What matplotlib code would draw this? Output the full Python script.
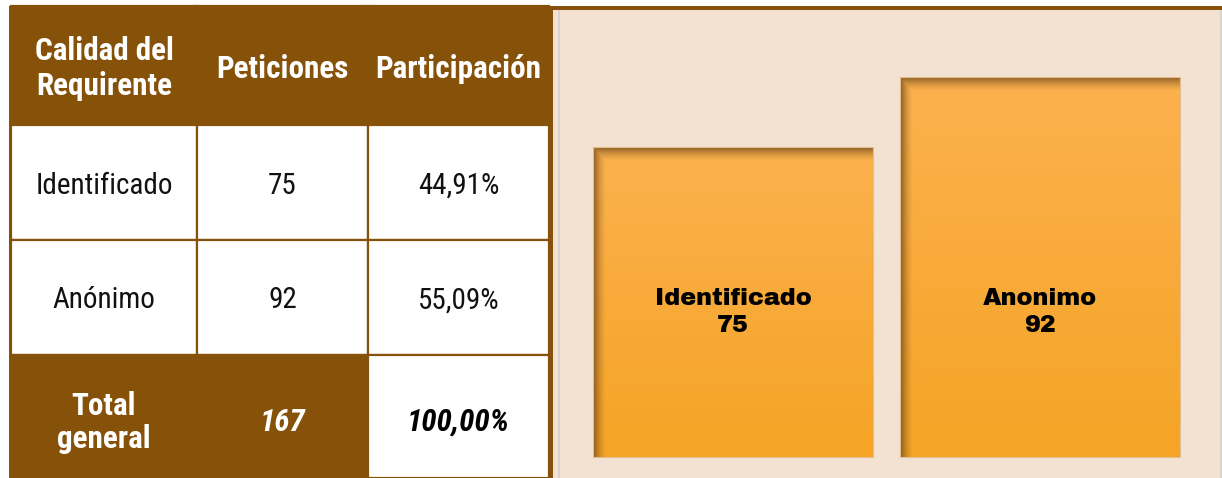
import numpy as np
import matplotlib
matplotlib.use("Agg")
import matplotlib.pyplot as plt
from matplotlib.lines import Line2D
from matplotlib.transforms import Affine2D

# ---------------- data ----------------
header = ["Calidad del\nRequirente", "Peticiones", "Participación"]
categories = ["Identificado", "Anónimo"]
peticiones = [75, 92]
participacion = ["44,91%", "55,09%"]
total_label = "Total\ngeneral"
total_peticiones = 167
total_participacion = "100,00%"
bar_labels = ["Identificado", "Anonimo"]

# ---------------- style ----------------
W, H = 1222, 478
BROWN = "#86520A"
BEIGE = "#F3E2D1"
TOP_OR = np.array([252, 177, 78]) / 255
BOT_OR = np.array([245, 164, 37]) / 255
SHADOW = np.array([120, 78, 28]) / 255
TFONT = ["Roboto Condensed", "DejaVu Sans"]
LFONT = ["Archivo Black", "DejaVu Sans"]

fig = plt.figure(figsize=(W / 100, H / 100), dpi=100)
fig.patch.set_facecolor("white")
ax_bg = fig.add_axes([9 / W, 0, (W - 9) / W, (H - 6) / H], zorder=-10)
ax_bg.set_facecolor(BROWN)
ax_bg.set_xticks([])
ax_bg.set_yticks([])
for sp in ax_bg.spines.values():
    sp.set_visible(False)

# ---------------- table ----------------
ax_t = fig.add_axes([11 / W, 0, 538 / W, (H - 6) / H])
ax_t.set_axis_off()
rows = [header]
for c, p, s in zip(categories, peticiones, participacion):
    rows.append([c, str(p), s])
rows.append([total_label, str(total_peticiones), total_participacion])
colours = [[BROWN] * 3] + [["white"] * 3 for _ in categories] + [[BROWN, BROWN, "white"]]
tbl = ax_t.table(cellText=rows, cellColours=colours, colWidths=[186, 171, 181],
                 cellLoc="center", bbox=[0, 0, 1, 1])
tbl.auto_set_font_size(False)
heights = [119, 115, 115, 123]
nrows = len(rows)
for (r, c), cell in tbl.get_celld().items():
    cell.set_height(heights[r])
    cell.set_edgecolor(BROWN)
    cell.set_linewidth(1.6)
    t = cell.get_text()
    t.set_fontfamily(TFONT)
    if r == 0:
        t.set_color("white")
        t.set_fontweight("bold")
        t.set_fontsize(22.4)
        t.set_linespacing(1.22)
        t.set_transform(Affine2D().translate(0, -3))
    elif r == nrows - 1:
        t.set_fontweight("bold")
        t.set_fontsize(22.4)
        t.set_linespacing(1.12)
        t.set_transform(Affine2D().translate(0, -6))
        if c == 0:
            t.set_color("white")
        elif c == 1:
            t.set_color("white")
            t.set_fontstyle("italic")
        else:
            t.set_color("black")
            t.set_fontstyle("italic")
    else:
        t.set_color("#111111")
        t.set_fontsize(21)
        t.set_transform(Affine2D().translate(0, -3))

# ---------------- bar chart ----------------
ax = fig.add_axes([553 / W, 0, (W - 553) / W, (H - 10) / H])
ax.set_facecolor(BEIGE)
xpos = np.arange(len(peticiones))
px_x = 307.0
px_y = 380.0 / 92.0
bars = ax.bar(xpos, peticiones, width=280 / px_x, color=BOT_OR, zorder=1)
for p in bars.patches:
    x0, y0 = p.get_x(), p.get_y()
    w, h = p.get_width(), p.get_height()
    wp, hp = int(round(w * px_x)), int(round(h * px_y))
    yy = np.linspace(0, 1, hp)[:, None, None]
    base = TOP_OR * (1 - yy) + BOT_OR * yy
    base = np.broadcast_to(base, (hp, wp, 3)).copy()
    dl = np.arange(wp)[None, :]
    dt = np.arange(hp)[:, None]
    sl = np.clip(1 - dl / 13.0, 0, 1) ** 1.6
    st = np.clip(1 - dt / 14.0, 0, 1) ** 1.5 * 0.95
    s = np.maximum(sl, st)[:, :, None] * 0.85
    img = base * (1 - s) + SHADOW * s
    ax.imshow(img, extent=[x0, x0 + w, y0, y0 + h], origin="upper",
              aspect="auto", interpolation="bilinear", zorder=2)
ax.bar(xpos, peticiones, width=280 / px_x, fill=False, edgecolor="#E2BE94",
       linewidth=0.8, zorder=3)
ax.set_xlim((553 - 733) / px_x, (W - 733) / px_x)
ax.set_ylim(-21 / px_y, 447 / px_y)
label_y = 35
for x, lab, v in zip(xpos, bar_labels, peticiones):
    ax.text(x, label_y, f"{lab}\n{v}", ha="center", va="center",
            fontsize=17.2, family=LFONT, linespacing=1.3,
            color="black", zorder=4)
for sp in ax.spines.values():
    sp.set_visible(False)
ax.set_xticks([])
ax.set_yticks([])
ax.add_line(Line2D([6 / 669, 6 / 669], [0, 1], transform=ax.transAxes,
                   color="#D6D0CC", lw=1.2, zorder=5))
ax.add_line(Line2D([0.999, 0.999], [0, 1], transform=ax.transAxes,
                   color="#D6D0CC", lw=1.2, zorder=5))

fig.savefig("out.png", dpi=100)
